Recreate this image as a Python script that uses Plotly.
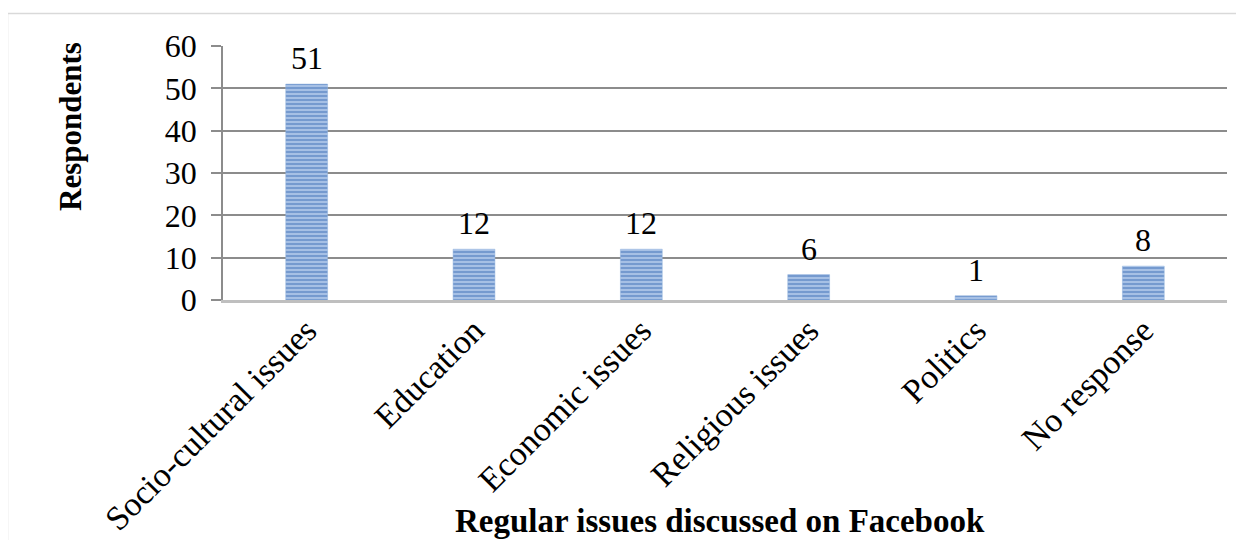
import plotly.graph_objects as go

categories = ["Socio-cultural issues", "Education", "Economic issues",
              "Religious issues", "Politics", "No response"]
values = [51, 12, 12, 6, 1, 8]
y_ticks = [0, 10, 20, 30, 40, 50, 60]

FONT = "Liberation Serif"

# plot area in page pixels (page has an 8px body margin)
PL, PR, PT, PB = 223, 1227, 46, 300
PW, PH = PR - PL, PB - PT

def px(x):
    return (x - PL) / PW

def py(y):
    return (PB - y) / PH

fig = go.Figure()
fig.add_trace(go.Bar(
    x=categories, y=values,
    marker=dict(
        color="#A9C3E8",
        line=dict(width=0.5, color="#8FB0DC"),
        pattern=dict(shape="-", fgcolor="#406FB6", bgcolor="#ABC4E8",
                     size=4, solidity=0.55, fillmode="overlay"),
    ),
))

annotations = [
    dict(x=c, y=v, xref="x", yref="y", text=str(v), showarrow=False,
         xanchor="center", yanchor="bottom", yshift=6,
         font=dict(family=FONT, size=32, color="black"))
    for c, v in zip(categories, values)
]
annotations += [
    dict(text="<b>Respondents</b>", xref="paper", yref="paper",
         x=px(70), y=py(127), textangle=-90,
         showarrow=False, xanchor="center", yanchor="middle",
         font=dict(family=FONT, size=31, color="black")),
    dict(text="<b>Regular issues discussed on Facebook</b>", xref="paper", yref="paper",
         x=px(720), y=py(521),
         showarrow=False, xanchor="center", yanchor="middle",
         font=dict(family=FONT, size=33, color="black")),
]

fig.update_layout(
    width=1236, height=532,
    margin=dict(l=PL - 8, r=17, t=PT - 8, b=240, autoexpand=False),
    paper_bgcolor="white", plot_bgcolor="white",
    showlegend=False,
    bargap=0.75,
    font=dict(family=FONT, color="black"),
    xaxis=dict(
        tickangle=-45,
        tickfont=dict(family=FONT, size=34, color="black"),
        showline=True, linecolor="#BFBFBF", linewidth=3,
        ticks="", showgrid=False,
        ticklabelstandoff=-6,
        automargin=False,
    ),
    yaxis=dict(
        range=[0, 60], tickvals=y_ticks,
        tickfont=dict(family=FONT, size=32, color="black"),
        showgrid=True, gridcolor="#8C8C8C", gridwidth=1.5,
        showline=True, linecolor="#8C8C8C", linewidth=1.5,
        ticks="outside", ticklen=10, tickcolor="#8C8C8C", tickwidth=1.5,
        ticklabelstandoff=8,
        zeroline=False,
        automargin=False,
    ),
    annotations=annotations,
    shapes=[
        dict(type="rect", xref="paper", yref="paper",
             x0=px(7.5), x1=1.2, y0=-1.3, y1=py(13.5),
             line=dict(color="#D9D9D9", width=1.5), layer="below"),
    ],
)

fig.write_html("out.html")
